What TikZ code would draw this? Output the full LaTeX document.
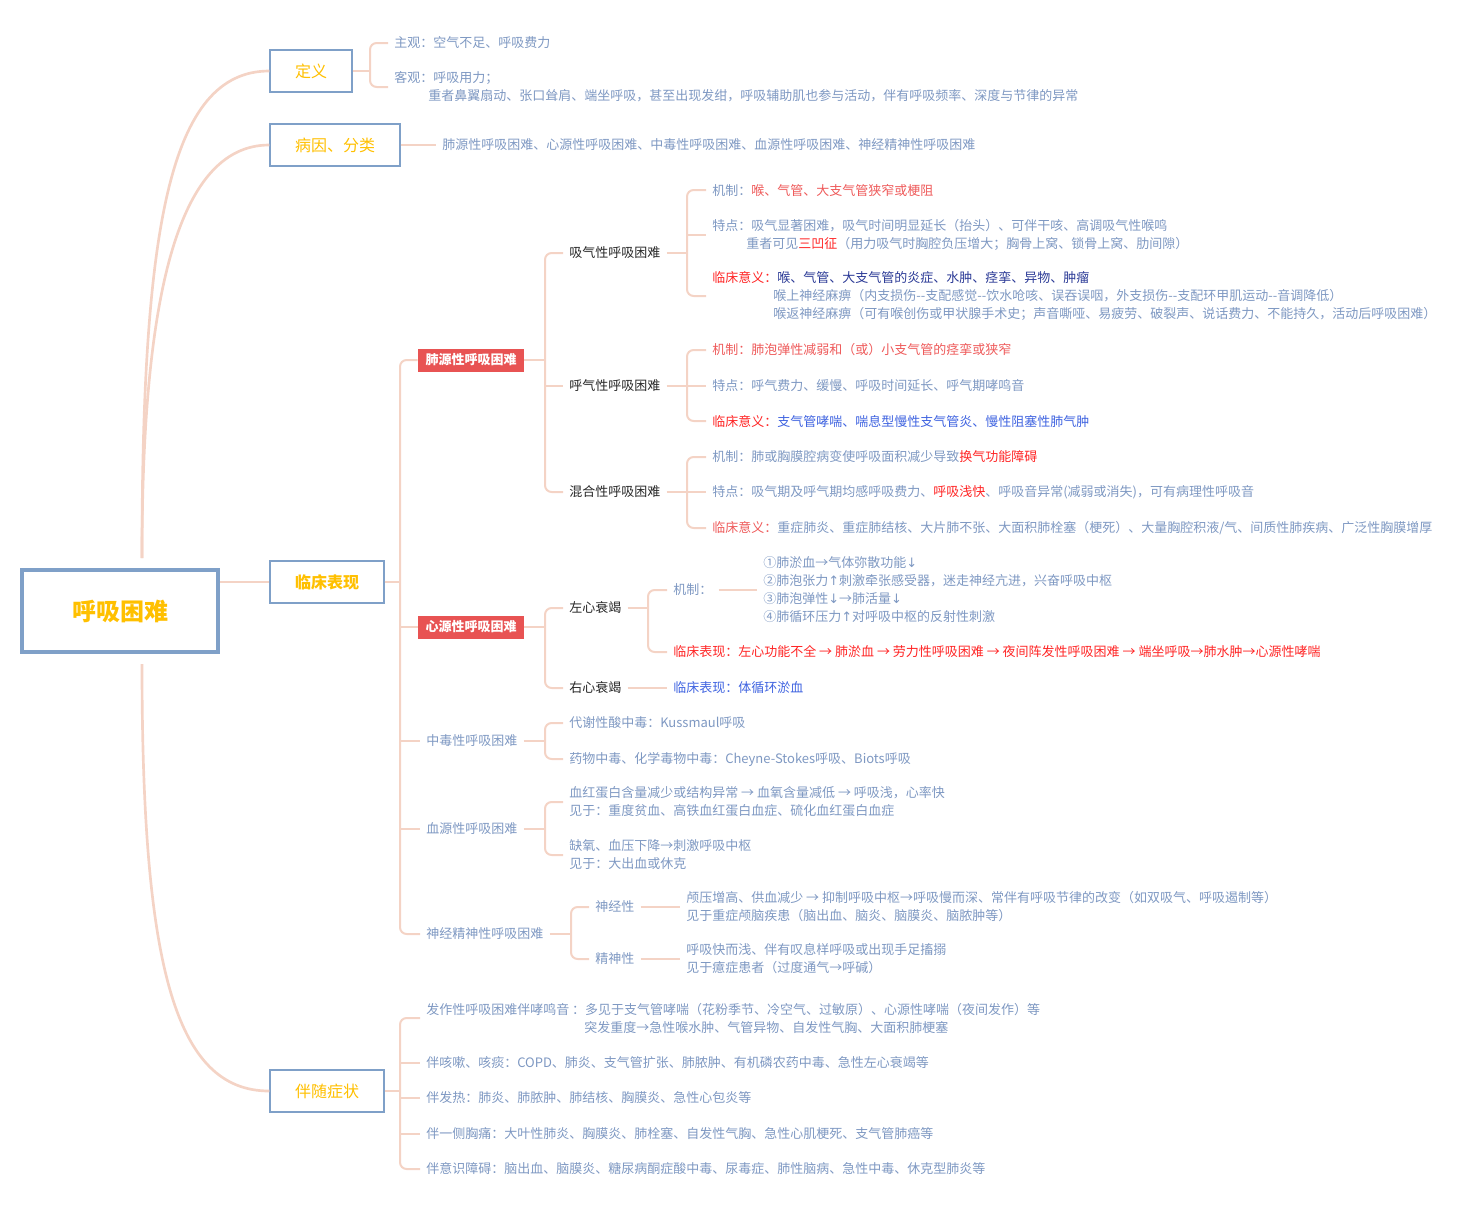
\documentclass[tikz,border=0pt]{standalone}
\usepackage{fontspec}
\setmainfont{Noto Sans CJK SC}
\newfontfamily\arrowfont{DejaVu Sans}
\usetikzlibrary{calc}
\definecolor{mapline}{HTML}{F4D3C5}
\definecolor{mapblue}{HTML}{7FA0C8}
\definecolor{mapgold}{HTML}{FFC000}
\definecolor{mapgray}{HTML}{7E98C2}
\definecolor{mapred}{HTML}{E85353}
\definecolor{mapsalmon}{HTML}{EE5A5A}
\definecolor{mapalert}{HTML}{FF2424}
\definecolor{mapnavy}{HTML}{2B3A96}
\definecolor{mapbright}{HTML}{3F63E0}
\newcommand{\mapfont}{\fontsize{9.75}{13.5}\selectfont}
\newcommand{\arrup}{{\arrowfont ↑}}
\newcommand{\arrdown}{{\arrowfont ↓}}
\tikzset{
  rootbox/.style={
    draw=mapblue,
    line width=3pt,
    fill=white,
    minimum width=147pt,
    minimum height=61.5pt,
    text=mapgold,
    font=\fontsize{18}{20}\selectfont\bfseries
  },
  topicbox/.style={
    draw=mapblue,
    line width=1.1pt,
    fill=white,
    minimum height=31.5pt,
    text=mapgold,
    font=\fontsize{12}{14}\selectfont
  },
  redbox/.style={
    fill=mapred,
    text=white,
    minimum width=79.5pt,
    minimum height=17.25pt,
    inner sep=1pt,
    font=\fontsize{9.75}{12}\selectfont\bfseries
  },
  subnode/.style={
    anchor=west,
    inner xsep=4.5pt,
    inner ysep=1pt,
    text=black!85,
    font=\mapfont
  },
  leaf/.style={
    subnode,
    text=mapgray,
    align=left
  },
  link/.style={
    draw=mapline,
    line width=1.5pt,
    rounded corners=5pt
  },
  trunk/.style={
    draw=mapline,
    line width=2pt
  }
}

\begin{document}
\begin{tikzpicture}[x=0.75pt,y=-0.75pt]
\useasboundingbox (0,0) rectangle (1478,1214);

% root and main topics
\node[rootbox] (root) at (120,611) {呼吸困难};
\node[topicbox, minimum width=61.5pt] (def) at (311,71) {定义};
\node[topicbox, minimum width=97.5pt] (etio) at (335,145) {病因、分类};
\node[topicbox, minimum width=85.5pt, font=\fontsize{12}{14}\selectfont\bfseries] (clin) at (327,582) {临床表现};
\node[topicbox, minimum width=85.5pt] (acc) at (327,1091) {伴随症状};

\draw[trunk] ($(root.north)+(22,-10)$) .. controls +(0,-330) and +(-100,0) .. (def.west);
\draw[trunk] ($(root.north)+(22,-10)$) .. controls +(0,-250) and +(-95,0) .. (etio.west);
\draw[trunk] ($(root.south)+(22,10)$) .. controls +(0,300) and +(-95,0) .. (acc.west);
\draw[trunk] (root.east |- clin.west) -- (clin.west);

% definition
\coordinate (defb) at (370,71);
\node[leaf] (def1) at (388,43) {主观：空气不足、呼吸费力};
\node[leaf] (def2) at (388,87) {客观：呼吸用力；\\\hspace*{25.5pt}重者鼻翼扇动、张口耸肩、端坐呼吸，甚至出现发绀，呼吸辅助肌也参与活动，伴有呼吸频率、深度与节律的异常};
\draw[link] (def.east) -- (defb);
\draw[link] (def1.west) -| (defb) |- (def2.west);

% causes
\node[leaf] (etio1) at (436,145) {肺源性呼吸困难、心源性呼吸困难、中毒性呼吸困难、血源性呼吸困难、神经精神性呼吸困难};
\draw[link] (etio.east) -- (etio1.west);

% clinical signs
\coordinate (clinb) at (400,582);
\node[redbox] (pulm) at (471,360) {肺源性呼吸困难};
\node[redbox] (card) at (471,627) {心源性呼吸困难};
\node[leaf] (tox) at (420,741) {中毒性呼吸困难};
\node[leaf] (blood) at (420,829) {血源性呼吸困难};
\node[leaf] (neuro) at (420,934) {神经精神性呼吸困难};
\draw[link] (clin.east) -- (clinb);
\draw[link] (pulm.west) -| (clinb) |- (neuro.west);
\draw[link] (card.west -| clinb) -- (card.west);
\draw[link] (tox.west -| clinb) -- (tox.west);
\draw[link] (blood.west -| clinb) -- (blood.west);

% pulmonary
\coordinate (pulmb) at (545,360);
\node[subnode] (inh) at (563,253) {吸气性呼吸困难};
\node[subnode] (exh) at (563,386) {呼气性呼吸困难};
\node[subnode] (mix) at (563,492) {混合性呼吸困难};
\draw[link] (pulm.east) -- (pulmb);
\draw[link] (inh.west) -| (pulmb) |- (mix.west);
\draw[link] (exh.west -| pulmb) -- (exh.west);

\coordinate (inhb) at (687,253);
\node[leaf] (inh1) at (706,190) {机制：\textcolor{mapsalmon}{喉、气管、大支气管狭窄或梗阻}};
\node[leaf] (inh2) at (706,235) {特点：吸气显著困难，吸气时间明显延长（抬头）、可伴干咳、高调吸气性喉鸣\\\hspace*{25.5pt}重者可见\textcolor{mapalert}{三凹征}（用力吸气时胸腔负压增大；胸骨上窝、锁骨上窝、肋间隙）};
\node[leaf] (inh3) at (706,296) {\textcolor{mapalert}{临床意义：}\textcolor{mapnavy}{喉、气管、大支气管的炎症、水肿、痉挛、异物、肿瘤}\\\hspace*{45.75pt}喉上神经麻痹（内支损伤-{}-支配感觉-{}-饮水呛咳、误吞误咽，外支损伤-{}-支配环甲肌运动-{}-音调降低）\\\hspace*{45.75pt}喉返神经麻痹（可有喉创伤或甲状腺手术史；声音嘶哑、易疲劳、破裂声、说话费力、不能持久，活动后呼吸困难）};
\draw[link] (inh.east) -- (inhb);
\draw[link] (inh1.west) -| (inhb) |- (inh3.west);
\draw[link] (inh2.west -| inhb) -- (inh2.west);

\coordinate (exhb) at (687,386);
\node[leaf, text=mapsalmon] (exh1) at (706,350) {机制：肺泡弹性减弱和（或）小支气管的痉挛或狭窄};
\node[leaf] (exh2) at (706,386) {特点：呼气费力、缓慢、呼吸时间延长、呼气期哮鸣音};
\node[leaf] (exh3) at (706,421) {\textcolor{mapalert}{临床意义：}\textcolor{mapbright}{支气管哮喘、喘息型慢性支气管炎、慢性阻塞性肺气肿}};
\draw[link] (exh.east) -- (exhb);
\draw[link] (exh1.west) -| (exhb) |- (exh3.west);
\draw[link] (exh2.west -| exhb) -- (exh2.west);

\coordinate (mixb) at (687,492);
\node[leaf] (mix1) at (706,457) {机制：肺或胸膜腔病变使呼吸面积减少导致\textcolor{mapalert}{换气功能障碍}};
\node[leaf] (mix2) at (706,492) {特点：吸气期及呼气期均感呼吸费力、\textcolor{mapalert}{呼吸浅快}、呼吸音异常(减弱或消失)，可有病理性呼吸音};
\node[leaf] (mix3) at (706,528) {\textcolor{mapsalmon}{临床意义：}重症肺炎、重症肺结核、大片肺不张、大面积肺栓塞（梗死）、大量胸腔积液/气、间质性肺疾病、广泛性胸膜增厚};
\draw[link] (mix.east) -- (mixb);
\draw[link] (mix1.west) -| (mixb) |- (mix3.west);
\draw[link] (mix2.west -| mixb) -- (mix2.west);

% cardiac
\coordinate (cardb) at (545,627);
\node[subnode] (lhf) at (563,608) {左心衰竭};
\node[subnode] (rhf) at (563,688) {右心衰竭};
\draw[link] (card.east) -- (cardb);
\draw[link] (lhf.west) -| (cardb) |- (rhf.west);

\coordinate (lhfb) at (648,608);
\node[leaf] (lmech) at (667,590) {机制：};
\node[leaf] (llist) at (757,590) {①肺淤血→气体弥散功能\arrdown\\②肺泡张力\arrup 刺激牵张感受器，迷走神经亢进，兴奋呼吸中枢\\③肺泡弹性\arrdown→肺活量\arrdown\\④肺循环压力\arrup 对呼吸中枢的反射性刺激};
\node[leaf, text=mapalert] (lclin) at (667,652) {临床表现：左心功能不全 → 肺淤血 → 劳力性呼吸困难 → 夜间阵发性呼吸困难 → 端坐呼吸→肺水肿→心源性哮喘};
\draw[link] (lhf.east) -- (lhfb);
\draw[link] (lmech.west) -| (lhfb) |- (lclin.west);
\draw[link] (lmech.east) -- (llist.west);

\node[leaf, text=mapbright] (rclin) at (667,688) {临床表现：体循环淤血};
\draw[link] (rhf.east) -- (rclin.west);

% toxic
\coordinate (toxb) at (545,741);
\node[leaf] (tox1) at (563,723) {代谢性酸中毒：Kussmaul呼吸};
\node[leaf] (tox2) at (563,759) {药物中毒、化学毒物中毒：Cheyne-Stokes呼吸、Biots呼吸};
\draw[link] (tox.east) -- (toxb);
\draw[link] (tox1.west) -| (toxb) |- (tox2.west);

% blood
\coordinate (bloodb) at (545,829);
\node[leaf] (blood1) at (563,802) {血红蛋白含量减少或结构异常 → 血氧含量减低 → 呼吸浅，心率快\\见于：重度贫血、高铁血红蛋白血症、硫化血红蛋白血症};
\node[leaf] (blood2) at (563,855) {缺氧、血压下降→刺激呼吸中枢\\见于：大出血或休克};
\draw[link] (blood.east) -- (bloodb);
\draw[link] (blood1.west) -| (bloodb) |- (blood2.west);

% neuro-psychiatric
\coordinate (neurob) at (571,934);
\node[leaf] (nerv) at (589,907) {神经性};
\node[leaf] (psy) at (589,959) {精神性};
\draw[link] (neuro.east) -- (neurob);
\draw[link] (nerv.west) -| (neurob) |- (psy.west);
\node[leaf] (nerv1) at (680,907) {颅压增高、供血减少 → 抑制呼吸中枢→呼吸慢而深、常伴有呼吸节律的改变（如双吸气、呼吸遏制等）\\见于重症颅脑疾患（脑出血、脑炎、脑膜炎、脑脓肿等）};
\node[leaf] (psy1) at (680,959) {呼吸快而浅、伴有叹息样呼吸或出现手足搐搦\\见于癔症患者（过度通气→呼碱）};
\draw[link] (nerv.east) -- (nerv1.west);
\draw[link] (psy.east) -- (psy1.west);

% accompanying symptoms
\coordinate (accb) at (400,1091);
\node[leaf] (acc1) at (420,1018) {发作性呼吸困难伴哮鸣音 ：多见于支气管哮喘（花粉季节、冷空气、过敏原）、心源性哮喘（夜间发作）等\\\hspace*{118.5pt}突发重度→急性喉水肿、气管异物、自发性气胸、大面积肺梗塞};
\node[leaf] (acc2) at (420,1063) {伴咳嗽、咳痰：COPD、肺炎、支气管扩张、肺脓肿、有机磷农药中毒、急性左心衰竭等};
\node[leaf] (acc3) at (420,1098) {伴发热：肺炎、肺脓肿、肺结核、胸膜炎、急性心包炎等};
\node[leaf] (acc4) at (420,1134) {伴一侧胸痛：大叶性肺炎、胸膜炎、肺栓塞、自发性气胸、急性心肌梗死、支气管肺癌等};
\node[leaf] (acc5) at (420,1169) {伴意识障碍：脑出血、脑膜炎、糖尿病酮症酸中毒、尿毒症、肺性脑病、急性中毒、休克型肺炎等};
\draw[link] (acc.east) -- (accb);
\draw[link] (acc1.west) -| (accb) |- (acc5.west);
\draw[link] (acc2.west -| accb) -- (acc2.west);
\draw[link] (acc3.west -| accb) -- (acc3.west);
\draw[link] (acc4.west -| accb) -- (acc4.west);
\end{tikzpicture}
\end{document}
